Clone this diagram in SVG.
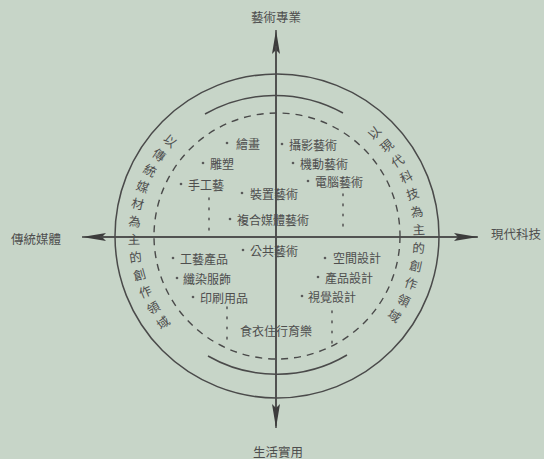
<svg xmlns="http://www.w3.org/2000/svg" width="544" height="459" viewBox="0 0 544 459">
<style>
.bg{fill:#c7d5c8}
.ln{stroke:#4a4a4a;stroke-width:1.5;fill:none}
.dash{stroke:#4a4a4a;stroke-width:1.4;fill:none;stroke-dasharray:7 6}
.dot{stroke:#5a5a5a;stroke-width:1.6;fill:none;stroke-dasharray:1.6 8.5;stroke-linecap:round}
text{font-family:"Noto Sans CJK TC","Noto Sans CJK SC",sans-serif;fill:#4e4e4e}
.lb{font-size:12px;dominant-baseline:central}
.ax{font-size:12.5px;text-anchor:middle;dominant-baseline:central}
.arc{font-size:12.5px;text-anchor:middle;dominant-baseline:central}
.bul{fill:#5a5a5a}
</style>
<defs>
<marker id="ah" markerUnits="userSpaceOnUse" markerWidth="26" markerHeight="10" refX="24" refY="5" orient="auto">
<path d="M0,1 L24,5 L0,9 L4,5 z" fill="#3c3c3c"/>
</marker>
</defs>
<rect class="bg" x="0" y="0" width="544" height="459"/>

<g id="rings">
<circle class="ln" cx="277" cy="236" r="162"/>
<circle class="dash" cx="277" cy="236" r="123"/>
<path class="ln" d="M205,114 A141,141 0 0 1 343,113"/>
<path class="ln" d="M208,356 A138,138 0 0 0 347,355"/>
</g>

<g id="connectors">
<line class="ln" x1="276" y1="426" x2="276" y2="30" marker-end="url(#ah)"/>
<line class="ln" x1="276" y1="46" x2="276" y2="428" marker-end="url(#ah)"/>
<line class="ln" x1="477" y1="237" x2="82" y2="237" marker-end="url(#ah)"/>
<line class="ln" x1="100" y1="237" x2="478" y2="237" marker-end="url(#ah)"/>
<line class="dot" x1="209" y1="198" x2="209" y2="232"/>
<line class="dot" x1="343" y1="194" x2="343" y2="230"/>
<line class="dot" x1="227" y1="307" x2="227" y2="345"/>
<line class="dot" x1="332" y1="311" x2="332" y2="345"/>
</g>

<g id="axis-top"><text class="ax" x="276" y="16">藝術專業</text></g>
<g id="axis-bottom"><text class="ax" x="278" y="451">生活實用</text></g>
<g id="axis-left"><text class="ax" x="36" y="238">傳統媒體</text></g>
<g id="axis-right"><text class="ax" x="516" y="233">現代科技</text></g>

<g id="n1"><circle class="bul" cx="227" cy="143" r="1.3"/><text class="lb" x="236" y="143">繪畫</text></g>
<g id="n2"><circle class="bul" cx="282" cy="144" r="1.3"/><text class="lb" x="289" y="144">攝影藝術</text></g>
<g id="n3"><circle class="bul" cx="203" cy="163" r="1.3"/><text class="lb" x="210" y="163">雕塑</text></g>
<g id="n4"><circle class="bul" cx="293" cy="163" r="1.3"/><text class="lb" x="300" y="163">機動藝術</text></g>
<g id="n5"><circle class="bul" cx="181" cy="184" r="1.3"/><text class="lb" x="188" y="184">手工藝</text></g>
<g id="n6"><circle class="bul" cx="308" cy="181" r="1.3"/><text class="lb" x="315" y="181">電腦藝術</text></g>
<g id="n7"><circle class="bul" cx="242" cy="193" r="1.3"/><text class="lb" x="250" y="193">裝置藝術</text></g>
<g id="n8"><circle class="bul" cx="230" cy="219" r="1.3"/><text class="lb" x="237" y="219">複合媒體藝術</text></g>
<g id="n9"><circle class="bul" cx="173" cy="258" r="1.3"/><text class="lb" x="180" y="258">工藝產品</text></g>
<g id="n10"><circle class="bul" cx="243" cy="250" r="1.3"/><text class="lb" x="250" y="250">公共藝術</text></g>
<g id="n11"><circle class="bul" cx="325" cy="258" r="1.3"/><text class="lb" x="333" y="257">空間設計</text></g>
<g id="n12"><circle class="bul" cx="177" cy="278" r="1.3"/><text class="lb" x="183" y="278">纖染服飾</text></g>
<g id="n13"><circle class="bul" cx="318" cy="277" r="1.3"/><text class="lb" x="325" y="277">產品設計</text></g>
<g id="n14"><circle class="bul" cx="193" cy="297" r="1.3"/><text class="lb" x="200" y="297">印刷用品</text></g>
<g id="n15"><circle class="bul" cx="302" cy="296" r="1.3"/><text class="lb" x="308" y="296">視覺設計</text></g>
<g id="n16"><text class="lb" x="240" y="330">食衣住行育樂</text></g>

<g id="arc-left">
<text class="arc" transform="translate(170.7,140.3) rotate(42)">以</text>
<text class="arc" transform="translate(159.6,154.3) rotate(34.8)">傳</text>
<text class="arc" transform="translate(150.3,169.7) rotate(27.6)">統</text>
<text class="arc" transform="translate(143.0,186.0) rotate(20.5)">媒</text>
<text class="arc" transform="translate(137.8,203.2) rotate(13.3)">材</text>
<text class="arc" transform="translate(134.8,220.8) rotate(6.1)">為</text>
<text class="arc" transform="translate(134.0,238.7) rotate(-1.1)">主</text>
<text class="arc" transform="translate(135.5,256.5) rotate(-8.3)">的</text>
<text class="arc" transform="translate(139.2,274.1) rotate(-15.4)">創</text>
<text class="arc" transform="translate(145.0,291.0) rotate(-22.6)">作</text>
<text class="arc" transform="translate(152.9,307.1) rotate(-29.8)">領</text>
<text class="arc" transform="translate(162.8,322.0) rotate(-37)">域</text>
</g>
<g id="arc-right">
<text class="arc" transform="translate(373.8,132.1) rotate(-47)">以</text>
<text class="arc" transform="translate(386.4,145.4) rotate(-39.6)">現</text>
<text class="arc" transform="translate(397.1,160.2) rotate(-32.3)">代</text>
<text class="arc" transform="translate(405.8,176.2) rotate(-24.9)">科</text>
<text class="arc" transform="translate(412.4,193.2) rotate(-17.6)">技</text>
<text class="arc" transform="translate(416.8,210.9) rotate(-10.2)">為</text>
<text class="arc" transform="translate(418.8,229.0) rotate(-2.8)">主</text>
<text class="arc" transform="translate(418.6,247.2) rotate(4.5)">的</text>
<text class="arc" transform="translate(416.0,265.2) rotate(11.9)">創</text>
<text class="arc" transform="translate(411.1,282.8) rotate(19.2)">作</text>
<text class="arc" transform="translate(404.0,299.6) rotate(26.6)">領</text>
<text class="arc" transform="translate(394.8,315.3) rotate(34)">域</text>
</g>
</svg>
